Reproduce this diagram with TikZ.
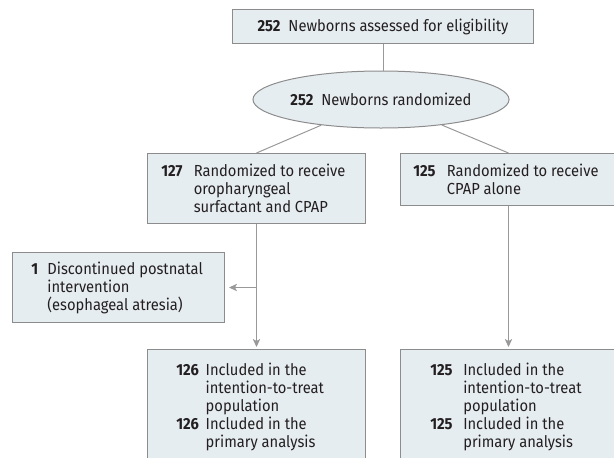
\documentclass[tikz,border=0pt]{standalone}
\usepackage{fontspec}
\setmainfont{Fira Sans}[FakeStretch=0.92]
\usetikzlibrary{shapes.geometric,arrows.meta}
\definecolor{boxfill}{HTML}{E6EDF1}
\definecolor{boxline}{HTML}{8C8C8C}
\definecolor{connc}{HTML}{999999}
\definecolor{txt}{HTML}{231F20}
\def\u{0.75pt}
\begin{document}
\begin{tikzpicture}[x=0.75pt,y=-0.75pt,
  font=\fontsize{12}{13.5}\selectfont,
  box/.style={draw=boxline, fill=boxfill, line width=0.75pt, inner sep=0, anchor=north west, text=txt},
  conn/.style={draw=connc, line width=0.75pt},
  arr/.style={conn, -{Stealth[length=6pt,width=5.5pt,inset=1.5pt]}, shorten >=1.5pt},
  lbl/.style={inner sep=0, anchor=base west, text=txt}]
\useasboundingbox (0,0) rectangle (614,457);
\clip (0,0) rectangle (614,457);
% boxes
\node[box, minimum width=301*\u, minimum height=34*\u] (top) at (232,9) {\textbf{252}\hspace{6pt}Newborns assessed for eligibility};
\node[ellipse, draw=boxline, fill=boxfill, line width=0.75pt, inner sep=0, text=txt,
      minimum width=244*\u, minimum height=57*\u] (ell) at (381,99.5) {\textbf{252}\hspace{6pt}Newborns randomized};
\node[box, minimum width=218*\u, minimum height=70*\u] (b127) at (147,153) {};
\node[box, minimum width=216*\u, minimum height=52*\u] (b125) at (400,153) {};
\node[box, minimum width=212*\u, minimum height=70*\u] (b1) at (12,252) {};
\node[box, minimum width=218*\u, minimum height=120*\u] (bl) at (147,349) {};
\node[box, minimum width=216*\u, minimum height=120*\u] (br) at (400,349) {};
% texts
\node[lbl] (t127) at (161,176.7) {\begin{tabular}[t]{@{}r@{\hspace{8.5pt}}l@{}}\textbf{127} & Randomized to receive\\ & oropharyngeal\\ & surfactant and CPAP\end{tabular}};
\node[lbl] (t125) at (413,176.7) {\begin{tabular}[t]{@{}r@{\hspace{8.5pt}}l@{}}\textbf{125} & Randomized to receive\\ & CPAP alone\end{tabular}};
\node[lbl] (t1) at (31,274) {\begin{tabular}[t]{@{}r@{\hspace{7pt}}l@{}}\textbf{1} & Discontinued postnatal\\ & intervention\\ & (esophageal atresia)\end{tabular}};
\node[lbl] (tl) at (176,375) {\begin{tabular}[t]{@{}r@{\hspace{5pt}}l@{}}\textbf{126} & Included in the\\ & intention-to-treat\\ & population\\ \textbf{126} & Included in the\\ & primary analysis\end{tabular}};
\node[lbl] (tr) at (430,375) {\begin{tabular}[t]{@{}r@{\hspace{8pt}}l@{}}\textbf{125} & Included in the\\ & intention-to-treat\\ & population\\ \textbf{125} & Included in the\\ & primary analysis\end{tabular}};
% connectors
\draw[conn] (top.south) -- (ell.north -| top.south);
\draw[conn] (ell) -- (b127.north);
\draw[conn] (ell) -- (b125.north);
\draw[arr] (b127.south) -- (bl.north);
\coordinate (j) at (b127.south |- b1.east);
\draw[arr, shorten >=3pt] (j) -- (b1.east);
\draw[arr] (b125.south) -- (br.north);
\end{tikzpicture}
\end{document}
